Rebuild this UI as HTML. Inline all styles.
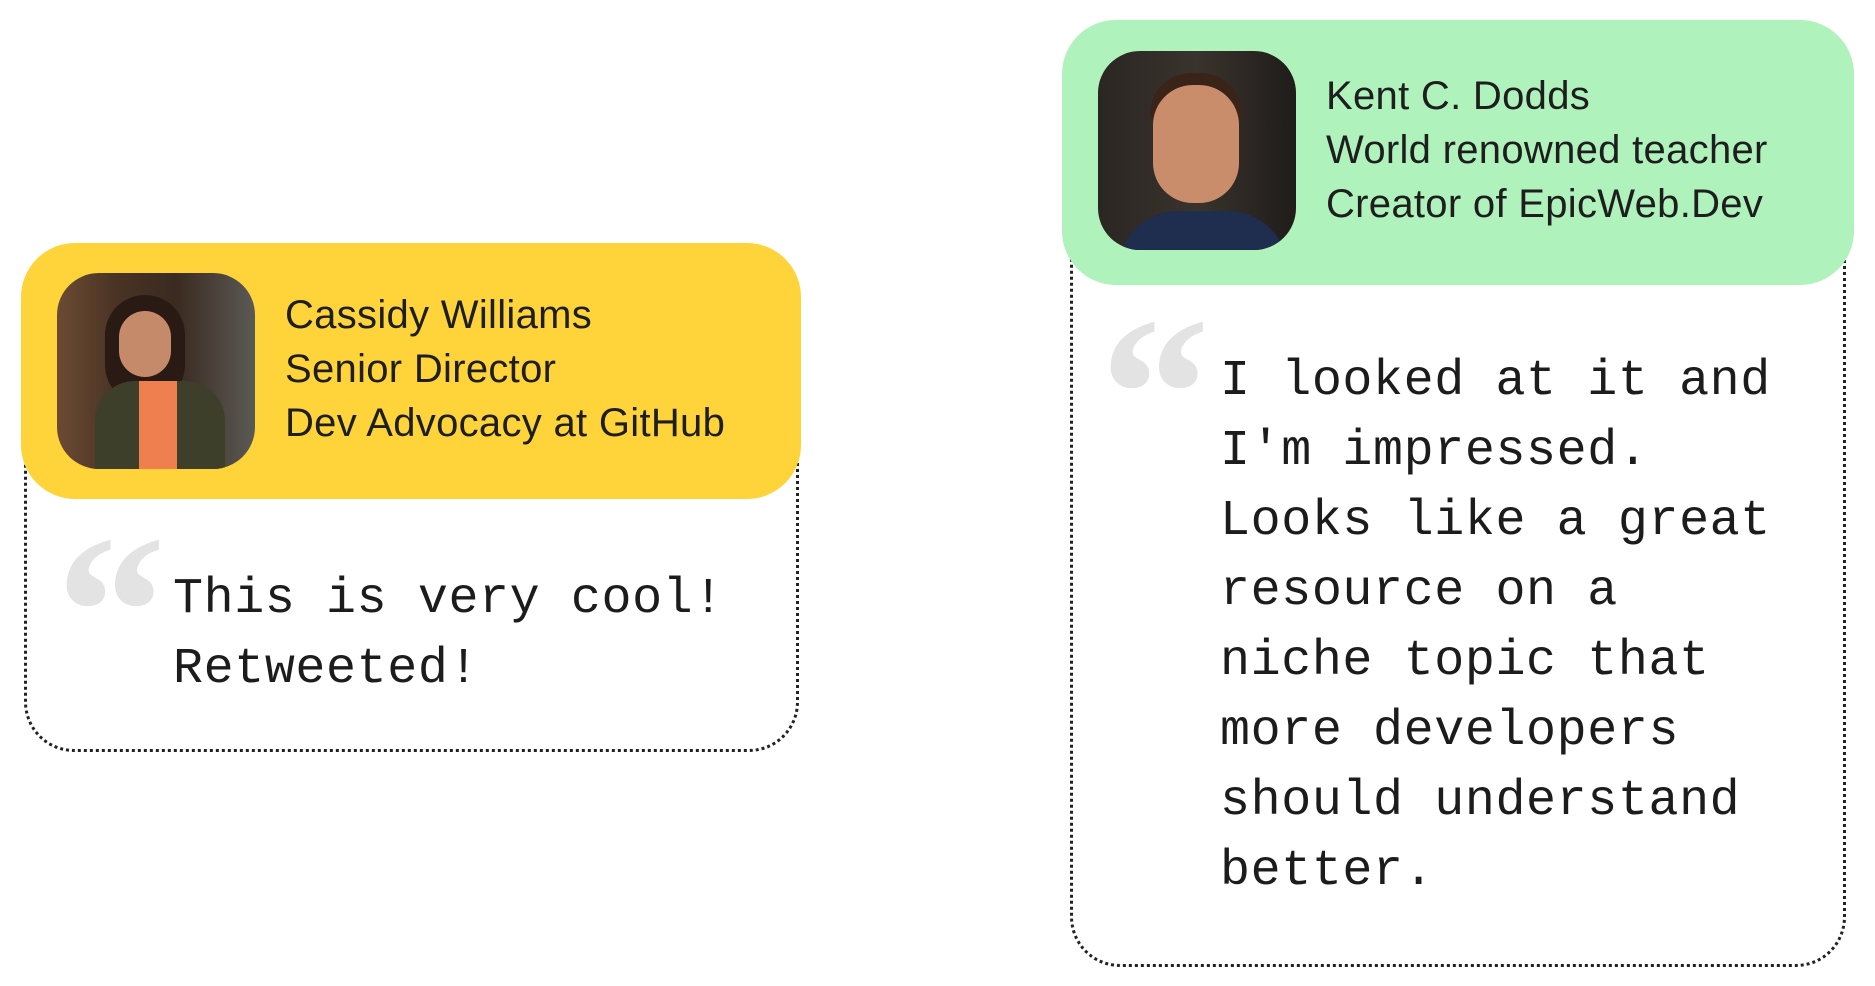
<!DOCTYPE html>
<html><head><meta charset="utf-8">
<style>
body{margin:0;width:1875px;height:986px;background:#fff;position:relative;overflow:hidden;font-family:"Liberation Sans",sans-serif;}
.abs{position:absolute;}
.dotted{border:3px dotted #222;box-sizing:border-box;}
.hdr{border-radius:54px;}
.photo{border-radius:42px;overflow:hidden;}
.name{color:#1e1e1e;font-size:40px;line-height:54px;letter-spacing:0.3px;}
.quote{font-family:"Liberation Mono",monospace;font-size:50px;line-height:70px;color:#1c1c1c;letter-spacing:0.6px;}
.qm{font-family:"Liberation Serif",serif;font-weight:bold;color:#e3e3e3;font-size:220px;line-height:220px;}
</style></head><body>

<div class="abs dotted" style="left:24px;top:420px;width:775px;height:332px;border-radius:0 0 50px 50px;border-top:none;"></div>
<div class="abs hdr" style="left:21px;top:243px;width:780px;height:256px;background:#fed43a;"></div>
<div class="abs photo" style="left:57px;top:273px;width:198px;height:196px;background:linear-gradient(90deg,#6b4a33 0%,#4a3324 30%,#3a2a20 60%,#5a5a55 100%);">
  <div class="abs" style="left:48px;top:22px;width:80px;height:110px;border-radius:40px;background:#2a1a14;"></div>
  <div class="abs" style="left:62px;top:38px;width:52px;height:66px;border-radius:26px;background:#c48a6a;"></div>
  <div class="abs" style="left:38px;top:108px;width:130px;height:100px;border-radius:40px 40px 0 0;background:#3d3f2a;"></div>
  <div class="abs" style="left:82px;top:108px;width:38px;height:90px;background:#f07f50;"></div>
</div>
<div class="abs name" style="left:285px;top:288px;">Cassidy Williams<br>Senior Director<br>Dev Advocacy at GitHub</div>
<div class="abs qm" style="left:56px;top:502px;">“</div>
<div class="abs quote" style="left:173px;top:565px;">This is very cool!<br>Retweeted!</div>

<div class="abs dotted" style="left:1070px;top:200px;width:776px;height:767px;border-radius:0 0 50px 50px;border-top:none;"></div>
<div class="abs hdr" style="left:1062px;top:20px;width:792px;height:265px;background:#b0f2bc;"></div>
<div class="abs photo" style="left:1098px;top:51px;width:198px;height:199px;background:linear-gradient(90deg,#2a2622,#3a332d 50%,#1f1c1a);">
  <div class="abs" style="left:52px;top:22px;width:92px;height:50px;border-radius:46px 46px 10px 10px;background:#3a2418;"></div>
  <div class="abs" style="left:55px;top:34px;width:86px;height:118px;border-radius:40px;background:#c98d6c;"></div>
  <div class="abs" style="left:20px;top:160px;width:170px;height:60px;border-radius:60px 60px 0 0;background:#1f2d4e;"></div>
</div>
<div class="abs name" style="left:1326px;top:69px;">Kent C. Dodds<br>World renowned teacher<br>Creator of EpicWeb.Dev</div>
<div class="abs qm" style="left:1100px;top:284px;">“</div>
<div class="abs quote" style="left:1220px;top:347px;">I looked at it and<br>I'm impressed.<br>Looks like a great<br>resource on a<br>niche topic that<br>more developers<br>should understand<br>better.</div>

</body></html>
